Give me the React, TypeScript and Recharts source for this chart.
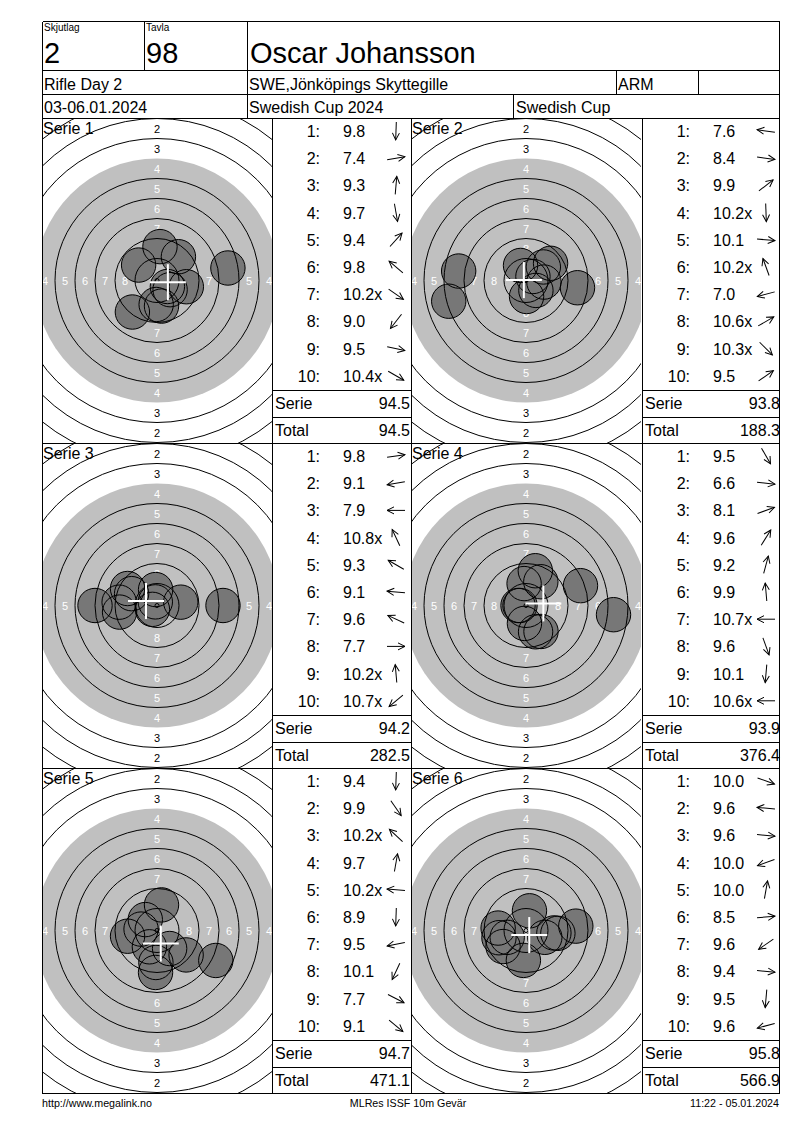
import { ScatterChart, Scatter, XAxis, YAxis } from "recharts";

// header texts
const SQUAD = "2";
const TARGET_NO = "98";
const SHOOTER = "Oscar Johansson";
const EVENT = "Rifle Day 2";
const CLUB = "SWE,Jönköpings Skyttegille";
const CLASS = "ARM";
const DATES = "03-06.01.2024";
const MATCH = "Swedish Cup 2024";
const CUP = "Swedish Cup";

// shot values per series: score, direction (deg, 0 = right, 90 = up), inner ten flag
const SERIE_NAMES = ["Serie 1", "Serie 2", "Serie 3", "Serie 4", "Serie 5", "Serie 6"];
const SCORES_1 = [9.8, 7.4, 9.3, 9.7, 9.4, 9.8, 10.2, 9.0, 9.5, 10.4];
const SCORES_2 = [7.6, 8.4, 9.9, 10.2, 10.1, 10.2, 7.0, 10.6, 10.3, 9.5];
const SCORES_3 = [9.8, 9.1, 7.9, 10.8, 9.3, 9.1, 9.6, 7.7, 10.2, 10.7];
const SCORES_4 = [9.5, 6.6, 8.1, 9.6, 9.2, 9.9, 10.7, 9.6, 10.1, 10.6];
const SCORES_5 = [9.4, 9.9, 10.2, 9.7, 10.2, 8.9, 9.5, 10.1, 7.7, 9.1];
const SCORES_6 = [10.0, 9.6, 9.6, 10.0, 10.0, 8.5, 9.6, 9.4, 9.5, 9.6];

const DIRS_1 = [-92, 10, 85, -80, 48, 140, -35, -128, -12, -30];
const DIRS_2 = [172, -8, 38, -88, -5, 110, -165, 30, -45, 35];
const DIRS_3 = [8, -170, 180, 115, 150, 175, 155, 0, 95, -140];
const DIRS_4 = [-60, -6, 20, 58, 75, 95, 180, -70, -95, 180];
const DIRS_5 = [-92, -55, 137, 80, 175, -92, -169, -115, -27, -40];
const DIRS_6 = [-20, 175, -5, -160, 80, 5, -145, -5, -95, -165];

const INNER_1 = [0, 0, 0, 0, 0, 0, 1, 0, 0, 1];
const INNER_2 = [0, 0, 0, 1, 0, 1, 0, 1, 1, 0];
const INNER_3 = [0, 0, 0, 1, 0, 0, 0, 0, 1, 1];
const INNER_4 = [0, 0, 0, 0, 0, 0, 1, 0, 0, 1];
const INNER_5 = [0, 0, 1, 0, 1, 0, 0, 0, 0, 0];
const INNER_6 = [0, 0, 0, 0, 0, 0, 0, 0, 0, 0];

const SCORES = [SCORES_1, SCORES_2, SCORES_3, SCORES_4, SCORES_5, SCORES_6];
const DIRS = [DIRS_1, DIRS_2, DIRS_3, DIRS_4, DIRS_5, DIRS_6];
const INNER = [INNER_1, INNER_2, INNER_3, INNER_4, INNER_5, INNER_6];

// ISSF 10m air rifle target, ring radii in mm (ring 1..10)
const RING_RADII = [22.75, 20.25, 17.75, 15.25, 12.75, 10.25, 7.75, 5.25, 2.75, 0.25];
const BLACK_RADIUS = 15.25;
const PELLET_R = 2.15;

const FOOT_LEFT = "http://www.megalink.no";
const FOOT_MID = "MLRes ISSF 10m Gevär";
const FOOT_RIGHT = "11:22 - 05.01.2024";

const FONT = '"Liberation Sans", Arial, sans-serif';
const W = 230;
const H = 325;
const PX = 8; // px per mm
const XH = W / PX / 2;
const YH = H / PX / 2;

const ROW_TOPS = [118, 443, 768];
const COL_TARGET = [42, 411];
const COL_LIST = [272, 642];

function shotsOf(i: number) {
  return SCORES[i].map((s, k) => {
    const d = (11 - s) * 2.5;
    const a = (DIRS[i][k] * Math.PI) / 180;
    return { x: d * Math.cos(a), y: d * Math.sin(a) };
  });
}

function Target({ index }: { index: number }) {
  const shots = shotsOf(index);
  const mpi = {
    x: shots.reduce((a, p) => a + p.x, 0) / shots.length,
    y: shots.reduce((a, p) => a + p.y, 0) / shots.length,
  };
  const rings = RING_RADII.map((r, k) => ({ x: 0, y: 0, r, n: k + 1 })).filter((d) => d.n !== 4);
  const labels: any[] = [];
  for (let n = 1; n <= 8; n++) {
    const m = (RING_RADII[n - 1] + RING_RADII[n]) / 2;
    [[0, m], [0, -m], [m, 0], [-m, 0]].forEach(([x, y]) => {
      if (Math.abs(x) < XH && Math.abs(y) < YH) labels.push({ x, y, n });
    });
  }
  return (
    <div style={{ width: W, height: H, overflow: "hidden" }}>
      <ScatterChart width={W} height={H} margin={{ top: 0, right: 0, bottom: 0, left: 0 }}>
        <XAxis type="number" dataKey="x" domain={[-XH, XH]} allowDataOverflow hide />
        <YAxis type="number" dataKey="y" domain={[-YH, YH]} allowDataOverflow hide />
        <Scatter
          data={[{ x: 0, y: 0 }]}
          isAnimationActive={false}
          shape={(p: any) => <circle cx={p.cx} cy={p.cy} r={BLACK_RADIUS * PX} fill="#c0c0c0" />}
        />
        <Scatter
          data={labels}
          isAnimationActive={false}
          shape={(p: any) => (
            <text
              x={p.cx}
              y={p.cy + 4}
              textAnchor="middle"
              fontSize={11}
              fontFamily={FONT}
              fill={p.payload.n >= 4 ? "#ffffff" : "#000000"}
            >
              {p.payload.n}
            </text>
          )}
        />
        <Scatter
          data={shots}
          isAnimationActive={false}
          shape={(p: any) => <circle cx={p.cx} cy={p.cy} r={PELLET_R * PX} fill="#777777" />}
        />
        <Scatter
          data={rings}
          isAnimationActive={false}
          shape={(p: any) => (
            <circle cx={p.cx} cy={p.cy} r={p.payload.r * PX} fill="none" stroke="#000" strokeWidth={1} />
          )}
        />
        <Scatter
          data={shots}
          isAnimationActive={false}
          shape={(p: any) => (
            <circle cx={p.cx} cy={p.cy} r={PELLET_R * PX} fill="none" stroke="#000" strokeWidth={1} />
          )}
        />
        <Scatter
          data={[mpi]}
          isAnimationActive={false}
          shape={(p: any) => (
            <g stroke="#fff" strokeWidth={2}>
              <line x1={p.cx - 18} y1={p.cy} x2={p.cx + 18} y2={p.cy} />
              <line x1={p.cx} y1={p.cy - 18} x2={p.cx} y2={p.cy + 18} />
            </g>
          )}
        />
      </ScatterChart>
    </div>
  );
}

function Arrow({ x, y, angle }: { x: number; y: number; angle: number }) {
  return (
    <g transform={`translate(${x},${y}) rotate(${-angle})`} stroke="#000" strokeWidth={1} fill="none">
      <line x1={-9} y1={0} x2={9} y2={0} />
      <polyline points="2,-3.5 9,0 2,3.5" />
    </g>
  );
}

export default function App() {
  const serieSums = SCORES.map((s) => s.reduce((a, b) => a + b, 0));
  const totals = serieSums.map((_, i) => serieSums.slice(0, i + 1).reduce((a, b) => a + b, 0));
  const lines: any[] = [];
  const hl = (x1: number, x2: number, y: number) => lines.push([x1, y, x2, y]);
  const vl = (x: number, y1: number, y2: number) => lines.push([x, y1, x, y2]);
  hl(42, 779, 21);
  hl(42, 779, 70);
  hl(42, 779, 94);
  hl(42, 779, 118);
  hl(42, 779, 443);
  hl(42, 779, 768);
  hl(42, 779, 1093);
  vl(42, 21, 1093);
  vl(779, 21, 1093);
  vl(144, 21, 70);
  vl(247, 21, 118);
  vl(616, 70, 94);
  vl(698, 70, 94);
  vl(513, 94, 118);
  vl(272, 118, 1093);
  vl(411, 118, 1093);
  vl(642, 118, 1093);
  ROW_TOPS.forEach((t) => {
    hl(272, 411, t + 272);
    hl(272, 411, t + 299);
    hl(642, 779, t + 272);
    hl(642, 779, t + 299);
  });

  return (
    <div
      style={{
        position: "absolute",
        left: 0,
        top: 0,
        width: 800,
        height: 1130,
        background: "#fff",
        fontFamily: FONT,
      }}
    >
      {SERIE_NAMES.map((_, i) => (
        <div
          key={i}
          style={{
            position: "absolute",
            left: COL_TARGET[i % 2],
            top: ROW_TOPS[Math.floor(i / 2)],
          }}
        >
          <Target index={i} />
        </div>
      ))}
      <svg
        width={800}
        height={1130}
        style={{ position: "absolute", left: 0, top: 0 }}
        fontFamily={FONT}
      >
        {lines.map(([x1, y1, x2, y2], k) => (
          <line
            key={k}
            x1={x1 + 0.5}
            y1={y1 + 0.5}
            x2={x2 + 0.5}
            y2={y2 + 0.5}
            stroke="#000"
            strokeWidth={1}
            shapeRendering="crispEdges"
          />
        ))}
        <text x={44} y={31} fontSize={10}>Skjutlag</text>
        <text x={146} y={31} fontSize={10}>Tavla</text>
        <text x={44} y={63} fontSize={29}>{SQUAD}</text>
        <text x={146} y={63} fontSize={29}>{TARGET_NO}</text>
        <text x={250} y={63} fontSize={29}>{SHOOTER}</text>
        <text x={44} y={90} fontSize={16}>{EVENT}</text>
        <text x={249} y={90} fontSize={16}>{CLUB}</text>
        <text x={618} y={90} fontSize={16}>{CLASS}</text>
        <text x={44} y={113} fontSize={16}>{DATES}</text>
        <text x={249} y={113} fontSize={16}>{MATCH}</text>
        <text x={516} y={113} fontSize={16}>{CUP}</text>

        {SERIE_NAMES.map((name, i) => {
          const t = ROW_TOPS[Math.floor(i / 2)];
          const tx = COL_TARGET[i % 2];
          const L = COL_LIST[i % 2];
          return (
            <g key={i}>
              <text x={tx + 1} y={t + 16} fontSize={16}>{name}</text>
              {SCORES[i].map((s, k) => {
                const y = t + 19 + k * 27.2;
                return (
                  <g key={k}>
                    <text x={L + 48} y={y} fontSize={16} textAnchor="end">{`${k + 1}:`}</text>
                    <text x={L + 71} y={y} fontSize={16}>{`${s.toFixed(1)}${INNER[i][k] ? "x" : ""}`}</text>
                    <Arrow x={L + 124} y={y - 6} angle={DIRS[i][k]} />
                  </g>
                );
              })}
              <text x={L + 3} y={t + 291} fontSize={16}>Serie</text>
              <text x={L + 138} y={t + 291} fontSize={16} textAnchor="end">{serieSums[i].toFixed(1)}</text>
              <text x={L + 3} y={t + 318} fontSize={16}>Total</text>
              <text x={L + 138} y={t + 318} fontSize={16} textAnchor="end">{totals[i].toFixed(1)}</text>
            </g>
          );
        })}

        <text x={42} y={1107} fontSize={10.7}>{FOOT_LEFT}</text>
        <text x={408} y={1107} fontSize={10.7} textAnchor="middle">{FOOT_MID}</text>
        <text x={779} y={1107} fontSize={10.7} textAnchor="end">{FOOT_RIGHT}</text>
      </svg>
    </div>
  );
}
